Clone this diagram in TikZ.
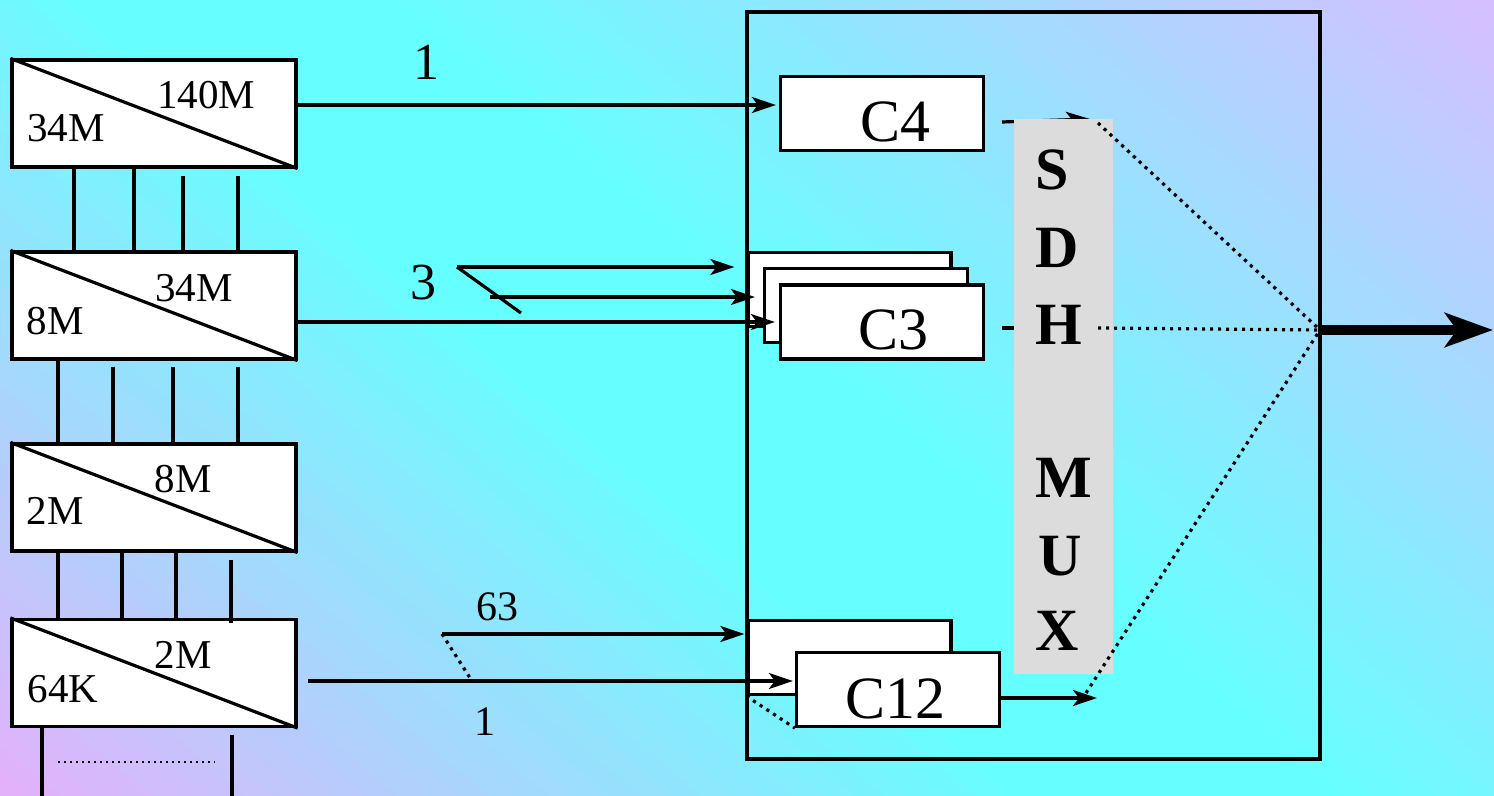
\documentclass[tikz,border=0pt]{standalone}
\usepackage{fontspec}
\setmainfont{Liberation Serif}
\usetikzlibrary{arrows.meta}
\definecolor{cy}{HTML}{66FFFF}
\definecolor{lavA}{HTML}{E4B0FA}
\definecolor{lavB}{HTML}{D6BEFF}
\definecolor{muxgray}{HTML}{DCDCDC}
\begin{document}
\begin{tikzpicture}[x=0.5pt,y=-0.5pt,
  lw/.style={line width=1.6pt},
  dmx/.style={draw, lw, fill=white, minimum width=142pt, minimum height=53.5pt, inner sep=0pt},
  cbox/.style={draw, lw, fill=white, minimum width=101.5pt, minimum height=37pt, inner sep=0pt},
  arr/.style={lw, -{Stealth[length=12pt,width=8pt,inset=3pt]}},
  dots/.style={line width=1.6pt, dash pattern=on 1.6pt off 2.4pt},
  fdots/.style={line width=1.1pt, dash pattern=on 1.1pt off 1.9pt},
  lab/.style={font=\fontsize{20.5pt}{24pt}\selectfont, anchor=base, inner sep=0pt},
  big/.style={font=\fontsize{30pt}{34pt}\selectfont, anchor=base, inner sep=0pt},
  num/.style={font=\fontsize{26pt}{30pt}\selectfont, anchor=base, inner sep=0pt},
  snum/.style={font=\fontsize{21pt}{25pt}\selectfont, anchor=base, inner sep=0pt},
  mlet/.style={font=\bfseries\fontsize{30pt}{34pt}\selectfont, anchor=base west, inner sep=0pt}
]
\useasboundingbox (0,0) rectangle (1494,796);
% background gradient
\begin{scope}
  \clip (0,0) rectangle (1494,796);
  \begin{scope}[shift={(0,796)}, rotate=50]
    \foreach \i in {0,...,79} {
      \pgfmathsetmacro\gt{(\i+0.5)/80}
      \pgfmathtruncatemacro\gp{\gt<0.42 ? 100*\gt/0.42 : (\gt<0.55 ? 100 : 100*(1-(\gt-0.55)/0.45))}
      \pgfmathsetmacro\ga{9.8125*\i}
      \pgfmathsetmacro\gb{9.8125*(\i+1)+0.8}
      \ifdim\gt pt<0.5pt
        \fill[cy!\gp!lavA] (\ga pt,-600pt) rectangle (\gb pt,300pt);
      \else
        \fill[cy!\gp!lavB] (\ga pt,-600pt) rectangle (\gb pt,300pt);
      \fi
    }
  \end{scope}
\end{scope}

% main system rectangle
\node[draw, lw, minimum width=286.5pt, minimum height=373.5pt, inner sep=0pt] (sys) at (1033.5,385.5) {};

% demultiplexer boxes
\node[dmx] (b1) at (154,113.5) {};
\node[dmx] (b2) at (154,305.5) {};
\node[dmx] (b3) at (154,497.5) {};
\node[dmx] (b4) at (154,673) {};
\foreach \b in {b1,b2,b3,b4} \draw[lw] (\b.north west) -- (\b.south east);

\node[lab] (l1a) at (66,142) {34M};
\node[lab] (l1b) at (206,109) {140M};
\node[lab] (l2a) at (55,335) {8M};
\node[lab] (l2b) at (194,302) {34M};
\node[lab] (l3a) at (55,524) {2M};
\node[lab] (l3b) at (183,493) {8M};
\node[lab] (l4a) at (63,702) {64K};
\node[lab] (l4b) at (183,668) {2M};

% tributary lines between boxes
\draw[lw] (b1.south -| 74,0) -- (b2.north -| 74,0);
\draw[lw] (b1.south -| 134,0) -- (b2.north -| 134,0);
\draw[lw, shorten <=3.5pt, shorten >=-2pt] (b1.south -| 183,0) -- (b2.north -| 183,0);
\draw[lw, shorten <=3.5pt, shorten >=-2pt] (b1.south -| 238,0) -- (b2.north -| 238,0);

\draw[lw] (b2.south -| 58,0) -- (b3.north -| 58,0);
\draw[lw, shorten <=3pt, shorten >=-1.5pt] (b2.south -| 113,0) -- (b3.north -| 113,0);
\draw[lw, shorten <=3pt, shorten >=-1.5pt] (b2.south -| 173,0) -- (b3.north -| 173,0);
\draw[lw, shorten <=3pt, shorten >=-1.5pt] (b2.south -| 238,0) -- (b3.north -| 238,0);

\draw[lw] (b3.south -| 58,0) -- (b4.north -| 58,0);
\draw[lw] (b3.south -| 122,0) -- (b4.north -| 122,0);
\draw[lw] (b3.south -| 176,0) -- (b4.north -| 176,0);
\draw[lw, shorten <=3.5pt, shorten >=-2.5pt] (b3.south -| 231,0) -- (b4.north -| 231,0);

\coordinate (e1) at (42,798);
\coordinate (e2) at (232,798);
\draw[lw] (b4.south -| e1) -- (e1);
\draw[lw, shorten <=3.5pt] (b4.south -| e2) -- (e2);
\coordinate (d1) at (58,762);
\coordinate (d2) at (215,762);
\draw[fdots] (d1) -- (d2);

% container boxes
\node[cbox] (c4) at (882,113.5) {};
\node[big] (c4t) at (895,142) {C4};

\node[cbox] (c3a) at (849.5,289.5) {};
\node[cbox] (c3b) at (866,305.5) {};
\node[cbox] (c3) at (882,322) {};
\node[big] (c3t) at (893,350) {C3};

\node[cbox] (c12a) at (849.5,657.5) {};
\node[cbox] (c12) at (898,689.5) {};
\node[big] (c12t) at (895,718) {C12};

% input arrows
\draw[arr, shorten >=1.5pt] ([yshift=4.25pt]b1.east) -- ([yshift=4.25pt]c4.west);
\node[num] (n1) at (426,80) {1};

\coordinate (t3a) at (457,267);
\coordinate (t3b) at (490,297);
\coordinate (t3c) at (521,313);
\draw[arr, shorten >=6pt] (t3a) -- (t3a -| c3a.west);
\draw[arr, shorten >=4pt] (t3b) -- (t3b -| c3b.west);
\draw[lw] (t3a) -- (t3c);
\draw[arr, shorten >=2pt] (b2.east |- c3.west) -- (c3.west);
\node[num] (n3) at (423,300) {3};

\coordinate (t63) at (442,634);
\coordinate (t1) at (472,681);
\coordinate (s12) at (308,681);
\draw[arr, shorten >=1pt] (t63) -- (t63 -| c12a.west);
\draw[dots] (t63) -- (t1);
\draw[arr, shorten >=1pt] (s12) -- (s12 -| c12.west);
\draw[dots] (c12a.south west) -- (c12.south west);
\node[snum] (n63) at (497,620) {63};
\node[snum] (n1b) at (485,735) {1};

% outputs towards the MUX
\coordinate (c4o) at (1002,122);
\coordinate (c4e) at (1090,119);
\draw[arr] (c4o) -- (c4e);
\coordinate (c3o) at (1002,328);
\coordinate (c3e) at (1050,328);
\draw[lw] (c3o) -- (c3e);
\coordinate (c12o) at (1097,698);
\draw[arr] (c12.east |- c12o) -- (c12o);

% SDH MUX bar
\node[fill=muxgray, minimum width=49.5pt, minimum height=277.5pt, inner sep=0pt] (mux) at (1063.5,396.5) {};
\node[mlet] (mS) at (1035,190) {S};
\node[mlet] (mD) at (1035,268) {D};
\node[mlet] (mH) at (1035,345) {H};
\node[mlet] (mM) at (1035,497) {M};
\node[mlet] (mU) at (1038,575) {U};
\node[mlet] (mX) at (1035,650) {X};

% combining dotted lines
\coordinate (out) at (1320,330);
\coordinate (p1) at (1098,123);
\coordinate (p2) at (1098,328);
\coordinate (p3) at (1086,693);
\draw[dots] (p1) -- (out);
\draw[dots] (p2) -- (out);
\draw[dots] (p3) -- (out);

% aggregate output
\coordinate (outend) at (1493,330);
\draw[line width=5pt, -{Stealth[length=24pt,width=17pt,inset=6pt]}] (out) -- (outend);
\end{tikzpicture}
\end{document}
